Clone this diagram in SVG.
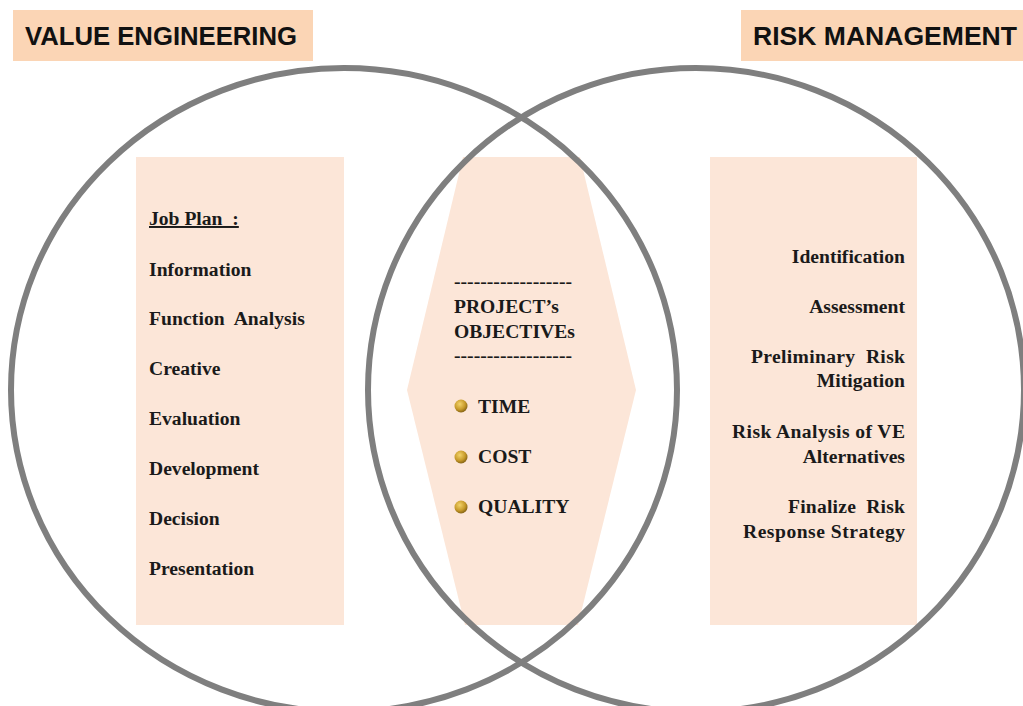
<svg xmlns="http://www.w3.org/2000/svg" width="1023" height="706" viewBox="0 0 1023 706">
<style>
.title{font-family:"Liberation Sans",Arial,sans-serif;font-weight:bold;font-size:25px;fill:#111}
.t{font-family:"Liberation Serif","Times New Roman",serif;font-weight:bold;font-size:19.6px;fill:#1a1a1a}
.r{text-anchor:end}
.panel{fill:#fce6d8}
.tbox{fill:#fbd5b5}
.ring{fill:none;stroke:#7f7f7f;stroke-width:6}
</style>
<defs>
<radialGradient id="gold" cx="0.4" cy="0.35" r="0.7">
<stop offset="0" stop-color="#f3d36a"/>
<stop offset="0.6" stop-color="#c79a2a"/>
<stop offset="1" stop-color="#7a5a10"/>
</radialGradient>
</defs>
<rect width="1023" height="706" fill="#fff"/>
<g id="title-ve">
<rect class="tbox" x="13" y="10" width="300" height="51"/>
<text class="title" x="25" y="45" textLength="272" lengthAdjust="spacingAndGlyphs">VALUE ENGINEERING</text>
</g>
<g id="title-rm">
<rect class="tbox" x="741" y="10" width="282" height="51"/>
<text class="title" x="753" y="45" textLength="264" lengthAdjust="spacingAndGlyphs">RISK MANAGEMENT</text>
</g>
<g id="ve-panel">
<rect class="panel" x="136" y="157" width="208" height="468"/>
<text class="t" x="149" y="225" text-decoration="underline" xml:space="preserve">Job Plan  :</text>
<text class="t" x="149" y="276">Information</text>
<text class="t" x="149" y="325" textLength="156" xml:space="preserve">Function  Analysis</text>
<text class="t" x="149" y="375">Creative</text>
<text class="t" x="149" y="425">Evaluation</text>
<text class="t" x="149" y="475">Development</text>
<text class="t" x="149" y="525">Decision</text>
<text class="t" x="149" y="575">Presentation</text>
</g>
<g id="objectives">
<polygon class="panel" points="463,157 580,157 636,390 578,625 465,625 407,390"/>
<text class="t" x="454" y="288" textLength="118" lengthAdjust="spacingAndGlyphs">------------------</text>
<text class="t" x="454" y="313">PROJECT’s</text>
<text class="t" x="454" y="338">OBJECTIVEs</text>
<text class="t" x="454" y="362" textLength="118" lengthAdjust="spacingAndGlyphs">------------------</text>
<circle cx="461" cy="406" r="6.5" fill="url(#gold)"/>
<text class="t" x="478" y="413">TIME</text>
<circle cx="461" cy="457" r="6.5" fill="url(#gold)"/>
<text class="t" x="478" y="463">COST</text>
<circle cx="461" cy="507" r="6.5" fill="url(#gold)"/>
<text class="t" x="478" y="513">QUALITY</text>
</g>
<g id="rm-panel">
<rect class="panel" x="710" y="157" width="207" height="468"/>
<text class="t r" x="905" y="263">Identification</text>
<text class="t r" x="905" y="313">Assessment</text>
<text class="t r" x="905" y="363" textLength="154" xml:space="preserve">Preliminary  Risk</text>
<text class="t r" x="905" y="387">Mitigation</text>
<text class="t r" x="905" y="438" textLength="173">Risk Analysis of VE</text>
<text class="t r" x="905" y="463">Alternatives</text>
<text class="t r" x="905" y="513" textLength="117" xml:space="preserve">Finalize  Risk</text>
<text class="t r" x="905" y="538" textLength="162">Response Strategy</text>
</g>
<g id="circles">
<ellipse class="ring" cx="344" cy="390" rx="333" ry="322"/>
<ellipse class="ring" cx="696" cy="390" rx="328" ry="322"/>
</g>
</svg>
